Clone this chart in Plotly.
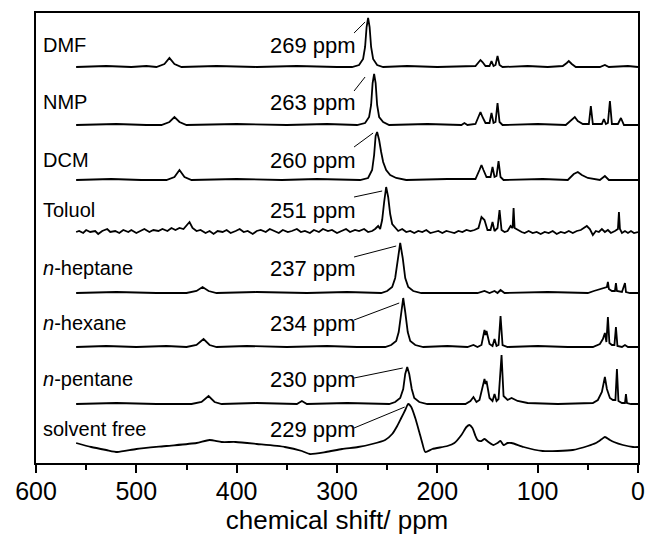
import plotly.graph_objects as go

# Sample names, top to bottom, and the shift of each main resonance (ppm)
SAMPLES = ["DMF", "NMP", "DCM", "Toluol", "<i>n</i>-heptane", "<i>n</i>-hexane",
           "<i>n</i>-pentane", "solvent free"]
MAIN_SHIFT = [269, 263, 260, 251, 237, 234, 230, 229]

# Spectra as (shift ppm, intensity) vertices; intensity is relative to each trace's baseline
DMF = [(560, 0), (530, 1), (505, 0), (490, 1), (480, 0), (472, 3), (467, 9), (462, 3), (455, 0),
       (420, 1), (380, 0), (340, 1), (300, 0), (285, 0), (278, 2), (274, 8),
       (272, 20), (270.5, 40), (269, 49), (267.5, 40), (266, 20), (264, 8), (260, 2), (254, 0),
       (230, 1), (200, 0), (162, 1), (159, 5), (157, 7), (155, 5), (152, 1), (148, 1), (146, 6),
       (144, 1), (142, 2), (140, 11), (138, 2), (135, 0), (110, 1), (90, 0), (75, 1), (71, 4),
       (69, 6), (66, 3), (62, 0), (38, 0), (33, 2), (29, 0), (10, 1), (0, 0)]

NMP = [(560, 0), (520, 1), (490, 0), (475, 0), (467, 3), (462, 8), (457, 3), (450, 0), (400, 1),
       (350, 0), (310, 1), (280, 0), (272, 2), (268, 8),
       (266, 20), (264.5, 42), (263, 51), (261.5, 42), (260, 20), (258, 8), (254, 3), (248, 0),
       (210, 1), (176, 0), (173, 2), (170, 0), (162, 1), (159, 8), (157, 13), (155, 8), (152, 2),
       (148, 2), (146, 12), (144, 2), (142, 3), (140, 22), (138, 3), (135, 0), (100, 1), (72, 0),
       (67, 4), (63, 8), (60, 4), (55, 1), (49, 1), (47, 19), (45, 1), (36, 1), (34, 6), (32, 1),
       (30, 2), (28, 24), (26, 1), (20, 1), (17, 7), (14, 0), (0, 0)]

DCM = [(560, 0), (525, 1), (495, 0), (470, 0), (462, 3), (457, 10), (452, 3), (445, 0),
       (400, 1), (355, 0), (320, 1), (277, 0), (269, 2), (265, 10),
       (263, 25), (261.5, 44), (260, 48), (258, 40), (256, 28), (254, 18), (251, 10), (247, 5),
       (241, 2), (231, 0), (190, 1), (162, 1), (158, 10), (156, 15), (154, 10), (151, 3),
       (147, 3), (145, 13), (143, 3), (141, 4), (139, 19), (137, 3), (134, 0), (95, 1), (70, 0),
       (64, 6), (60, 8), (56, 5), (50, 2), (38, 0), (33, 4), (29, 0), (0, 0)]

TOLUOL = [(560, 0), (557, 1), (553, -1), (550, 2), (546, 0), (541, 1), (538, -2), (534, 1),
          (529, 3), (526, 0), (521, 1), (517, -1), (513, 2), (508, 0), (505, 2), (500, -1),
          (496, 1), (492, 3), (487, 0), (483, 2), (478, 1), (474, 3), (469, 1), (465, 4),
          (461, 2), (457, 4), (453, 3), (450, 6), (447, 10), (444, 4), (440, 1), (436, 2),
          (431, -1), (427, 1), (423, -2), (419, 1), (414, 0), (410, 2), (406, -1), (401, 1),
          (397, 3), (393, 0), (389, 1), (384, -2), (380, 1), (376, 2), (371, 0), (367, 3),
          (362, 1), (358, -1), (354, 2), (349, 0), (345, 1), (340, 3), (336, 0), (332, 1),
          (327, -1), (323, 2), (318, 0), (314, 3), (309, 1), (305, 2), (300, -1), (296, 1),
          (291, 3), (287, 0), (282, 2), (278, 1), (273, 3), (269, 0), (265, 1), (262, 3),
          (259, 6), (257, 3), (255, 12), (253, 30), (251, 45), (249, 35), (247, 18), (245, 8),
          (242, 4), (239, 1), (235, 3), (231, 0), (227, 1), (223, -1), (219, 1), (215, 0),
          (211, 2), (207, -1), (203, 0), (199, 1), (195, -1), (191, 1), (187, 0), (183, -1),
          (179, 1), (175, 0), (171, 2), (167, 1), (163, 2), (159, 4), (156, 15), (153, 12),
          (150, 2), (147, 2), (145, 10), (143, 1), (140, 4), (138, 22), (136, 2), (133, 0),
          (130, 1), (127, 6), (125, 4), (124, 24), (123, 4), (120, 2), (116, 0), (113, -1),
          (109, 1), (105, -1), (101, 0), (97, -2), (93, 0), (89, -1), (85, 1), (81, -2),
          (77, 0), (73, -1), (69, 1), (65, -1), (61, 1), (57, 2), (54, 4), (51, 6), (48, 3),
          (45, -3), (42, 1), (39, 0), (36, 3), (33, 0), (30, 2), (27, -1), (23, 1), (20, 3),
          (19, 20), (18, 3), (16, -1), (13, 1), (10, -1), (7, 1), (4, -1), (0, 0)]

HEPTANE = [(560, 0), (520, 1), (480, 0), (450, 0), (440, 2), (434, 6), (428, 2), (420, 0),
           (380, 1), (330, 0), (290, 1), (256, 0), (250, 2),
           (245, 6), (242, 15), (239.5, 35), (237, 50), (234.5, 35), (232, 15), (229, 6),
           (224, 2), (216, 0), (160, 0), (153, 2), (148, 0), (143, 2), (140, 0), (137, 3),
           (133, 0), (90, 1), (50, 0), (44, 2), (38, 4), (33, 5), (31, 6), (30, 11), (29, 4),
           (26, 2), (23, 2), (22, 10), (21, 2), (16, 1), (13, 10), (12, 1), (8, 0), (0, 0)]

HEXANE = [(560, 0), (530, 1), (500, 0), (470, 1), (450, 0), (440, 2), (433, 8), (427, 2),
          (420, 0), (390, 1), (350, 0), (310, 1), (280, 0), (252, 0), (246, 2),
          (241, 6), (238.5, 15), (236, 35), (234, 49), (232, 35), (229.5, 15), (227, 6),
          (222, 2), (214, 0), (190, 1), (170, 0), (164, 2), (160, 0), (156, 2), (153, 17),
          (152, 12), (151, 16), (148, 3), (145, 1), (143, 8), (141, 1), (139, 2), (137, 31),
          (135, 2), (130, 0), (100, 1), (70, 0), (45, 0), (38, 3), (35, 8), (33, 14),
          (31.5, 5), (30, 30), (28.5, 4), (26, 2), (23.5, 2), (22, 20), (20.5, 1), (16, 0),
          (13, 2), (10, 0), (0, 0)]

PENTANE = [(560, 0), (520, 1), (480, 0), (445, 0), (435, 2), (428, 8), (422, 2), (415, 0),
           (380, 1), (340, 0), (335, 3), (330, 0), (290, 1), (248, 0), (242, 2), (237, 6),
           (234, 15), (232, 30), (230, 37), (228, 30),
           (225.5, 15), (223, 6), (218, 2), (210, 0), (172, 0), (167, 3), (164, 7), (161, 2),
           (158, 4), (155, 16), (153, 25), (152, 20), (151, 23), (148, 6), (145, 3), (143, 10),
           (141, 3), (139, 5), (136, 49), (134, 8), (130, 4), (126, 6), (120, 3), (110, 1),
           (80, 0), (45, 1), (40, 4), (36, 12), (33, 27), (31, 15), (28, 6), (25, 4),
           (22.5, 4), (21, 35), (19.5, 3), (16, 1), (13, 1), (12, 10), (11, 1), (7, 0), (0, 0)]

# Solvent-free sample has a rolling baseline, so its values are absolute
SOLVENT_FREE = [(560, 20), (545, 16), (530, 13), (519, 11), (500, 14), (470, 17), (440, 20),
                (427, 23), (415, 21), (401, 21), (380, 19), (352, 16), (335, 12), (327, 9),
                (311, 11), (295, 14), (279, 16), (265, 19), (252, 23), (245, 29), (240, 37),
                (236, 45), (232, 53), (229, 59), (226, 56), (222, 45), (218, 31), (215, 20),
                (212, 11), (205, 14), (190, 17), (183, 20), (176, 28), (171, 36), (168, 38),
                (165, 35), (162, 27), (160, 23), (156, 22), (153, 24), (149, 21), (144, 18),
                (140, 20), (137, 22), (134, 18), (130, 20), (126, 20), (114, 16), (95, 12),
                (80, 12), (65, 13), (50, 17), (42, 20), (36, 24), (33, 26), (28, 23), (24, 21),
                (15, 18), (5, 16), (0, 16)]

SPECTRA = [DMF, NMP, DCM, TOLUOL, HEPTANE, HEXANE, PENTANE, SOLVENT_FREE]

# Vertical stacking offsets of each trace
OFFSETS = [396, 338, 283, 231, 170, 116, 59, 0]

# Label rows (y centre) and leader lines: start at the ppm label, end beside the peak top
LABEL_Y = [418, 361, 303, 253, 195, 140, 84, 34]
LEADER_START_Y = [430, 372, 316, 266, 206, 143, 85, 35]
LEADER_END = [(272, 441), (272, 386), (264, 330), (255, 272), (241, 217), (238, 160),
              (234.5, 95), (232.5, 56)]

FONT = "Arial, Liberation Sans, Helvetica, sans-serif"

fig = go.Figure()
for name, pts, off in zip(SAMPLES, SPECTRA, OFFSETS):
    # the broad solvent-free spectrum is drawn as a smooth curve
    shape = "spline" if pts is SOLVENT_FREE else "linear"
    fig.add_trace(go.Scatter(
        x=[p[0] for p in pts], y=[p[1] + off for p in pts],
        mode="lines", line=dict(color="black", width=1.8, shape=shape, smoothing=0.6),
        name=name, showlegend=False, hoverinfo="skip"))

for name, shift, ly, sy, (ex, ey) in zip(SAMPLES, MAIN_SHIFT, LABEL_Y, LEADER_START_Y, LEADER_END):
    fig.add_annotation(x=0.008, xref="paper", y=ly, yref="y", text=name, showarrow=False,
                       xanchor="left", yanchor="middle",
                       font=dict(family=FONT, size=20, color="black"))
    fig.add_annotation(x=279, xref="x", y=ly, yref="y", text=f"{shift} ppm", showarrow=False,
                       xanchor="right", yanchor="middle",
                       font=dict(family=FONT, size=22, color="black"))
    fig.add_shape(type="line", xref="x", yref="y", x0=283, y0=sy, x1=ex, y1=ey,
                  line=dict(color="black", width=1))

fig.update_layout(
    width=656, height=544,
    margin=dict(l=36, r=11, t=13, b=81),
    paper_bgcolor="white", plot_bgcolor="white",
    font=dict(family=FONT, color="black"),
)
fig.update_xaxes(
    range=[600, 0], dtick=100, tick0=0,
    ticks="outside", ticklen=8, tickwidth=1.5, tickcolor="black",
    minor=dict(dtick=50, ticks="outside", ticklen=5, tickwidth=1.5, tickcolor="black"),
    showline=True, linecolor="black", linewidth=1.5, mirror=True,
    showgrid=False, zeroline=False,
    tickfont=dict(family=FONT, size=25, color="black"),
    ticklabelstandoff=-3,
    title=dict(text="chemical shift/ ppm", font=dict(family=FONT, size=26, color="black"),
               standoff=6),
)
fig.update_yaxes(
    range=[0, 450], showticklabels=False, ticks="",
    showline=True, linecolor="black", linewidth=1.5, mirror=True,
    showgrid=False, zeroline=False,
)

fig.write_html("out.html")
